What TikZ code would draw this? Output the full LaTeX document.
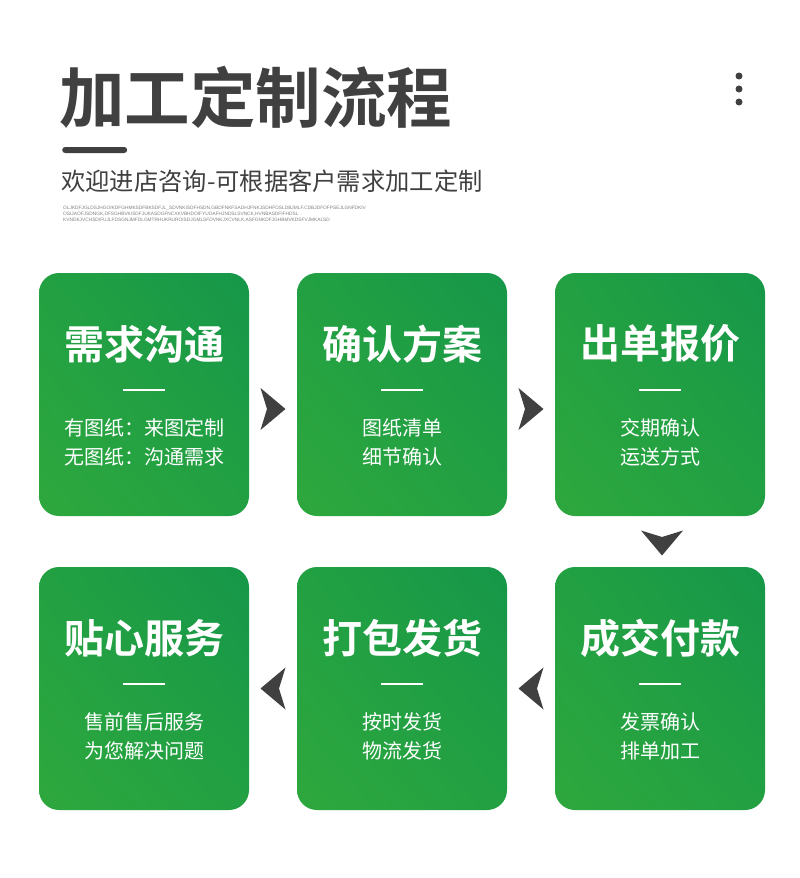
\documentclass[tikz,border=0pt]{standalone}
\usepackage{fontspec}
\newfontfamily\cjk{Noto Sans CJK SC}[BoldFont={Noto Sans CJK SC Bold}]
\newfontfamily\tinyfont{Liberation Sans}
\usetikzlibrary{calc,shadings}
\definecolor{darkgray}{HTML}{404040}
\definecolor{gA}{HTML}{2EA83D}
\definecolor{gB}{HTML}{22A042}
\definecolor{gC}{HTML}{16974A}
\begin{document}
\begin{tikzpicture}[x=1pt,y=-1pt,
  card/.style={rounded corners=20pt, minimum width=210pt, minimum height=243pt, inner sep=0pt,
    lower left=gA, upper right=gC, upper left=gB, lower right=gB},
  ctitle/.style={font=\cjk\bfseries\fontsize{40}{44}\selectfont, text=white, inner sep=0pt},
  cline/.style={font=\cjk\fontsize{20}{30}\selectfont, text=white, inner sep=0pt, align=center},
  cdash/.style={fill=white, minimum width=42pt, minimum height=2.6pt, inner sep=0pt},
  chev/.pic={\fill[darkgray] (-12.5,-21) -- (12.5,0) -- (-12.5,21) -- (-6,0) -- cycle;}
]
\useasboundingbox (0,0) rectangle (800,878);
\fill[white] (0,0) rectangle (800,878);

% header
\node[font=\cjk\bfseries\fontsize{65.5}{70}\selectfont, text=darkgray, anchor=west, inner sep=0pt] (title) at (59,97) {加工定制流程};
\node[fill=darkgray, rounded corners=3pt, minimum width=65pt, minimum height=6pt, inner sep=0pt, anchor=west] (bar) at (62,150) {};
\node[font=\cjk\fontsize{24.3}{28}\selectfont, text=darkgray, anchor=west, inner sep=0pt] (sub) at (61,181) {欢迎进店咨询-可根据客户需求加工定制};
\node[font=\tinyfont\fontsize{4.8}{6}\selectfont, text=gray, anchor=north west, inner sep=0pt, align=left] (small) at (63,206)
  {OLJKDFJGLDSJHGOIKDFGHMKSDFBKSDFJL\_SDVNKISDFHSDN,GBDFNKFSADHJFNKJSDHFOSLDBJMLF.CDBJDFOFPSEJLGNFDKIV\\
   OSIJAOFJSDNGK,DFSGHBVKISDFJUKASDGFNCXKVBHDOIFYUOAFHJNDSLSVNCK,HVNBASDFIFHDSL\\
   KVNDKJVCHSDIFUJLFDSGNJMFDLGMTRHUKRUROISDJGMLSFDVNKJXCVNLK,ASFGNKDFJGHBMVKDSFVJMKALSD};

% menu dots
\foreach \yy/\nm in {76/d1,89/d2,102/d3}
  \node[circle, fill=darkgray, minimum size=7pt, inner sep=0pt] (\nm) at (739,\yy) {};

% cards
\node[card] (c1) at (144,394.5) {};
\node[card] (c2) at (402,394.5) {};
\node[card] (c3) at (660,394.5) {};
\node[card] (c4) at (144,688.5) {};
\node[card] (c5) at (402,688.5) {};
\node[card] (c6) at (660,688.5) {};

\newcommand{\cardtext}[4]{%
  \node[ctitle] (#1t) at ($(#1.north)+(0,71)$) {#2};
  \node[cdash] (#1d) at ($(#1.north)+(0,117)$) {};
  \node[cline] (#1a) at ($(#1.north)+(0,155)$) {#3};
  \node[cline] (#1b) at ($(#1.north)+(0,184)$) {#4};
}
\cardtext{c1}{需求沟通}{有图纸：来图定制}{无图纸：沟通需求}
\cardtext{c2}{确认方案}{图纸清单}{细节确认}
\cardtext{c3}{出单报价}{交期确认}{运送方式}
\cardtext{c4}{贴心服务}{售前售后服务}{为您解决问题}
\cardtext{c5}{打包发货}{按时发货}{物流发货}
\cardtext{c6}{成交付款}{发票确认}{排单加工}

% arrows
\path (c1.east) -- (c2.west) coordinate[midway] (a12);
\path (c2.east) -- (c3.west) coordinate[midway] (a23);
\path (c3.south) -- (c6.north) coordinate[midway] (a36);
\path (c6.west) -- (c5.east) coordinate[midway] (a65);
\path (c5.west) -- (c4.east) coordinate[midway] (a54);
\pic at ($(a12)+(0,14.5)$) {chev};
\pic at ($(a23)+(0,14.5)$) {chev};
\pic[rotate=-90] at ($(a36)+(2,1.5)$) {chev};
\pic[rotate=180] at (a65) {chev};
\pic[rotate=180] at (a54) {chev};
\end{tikzpicture}
\end{document}
